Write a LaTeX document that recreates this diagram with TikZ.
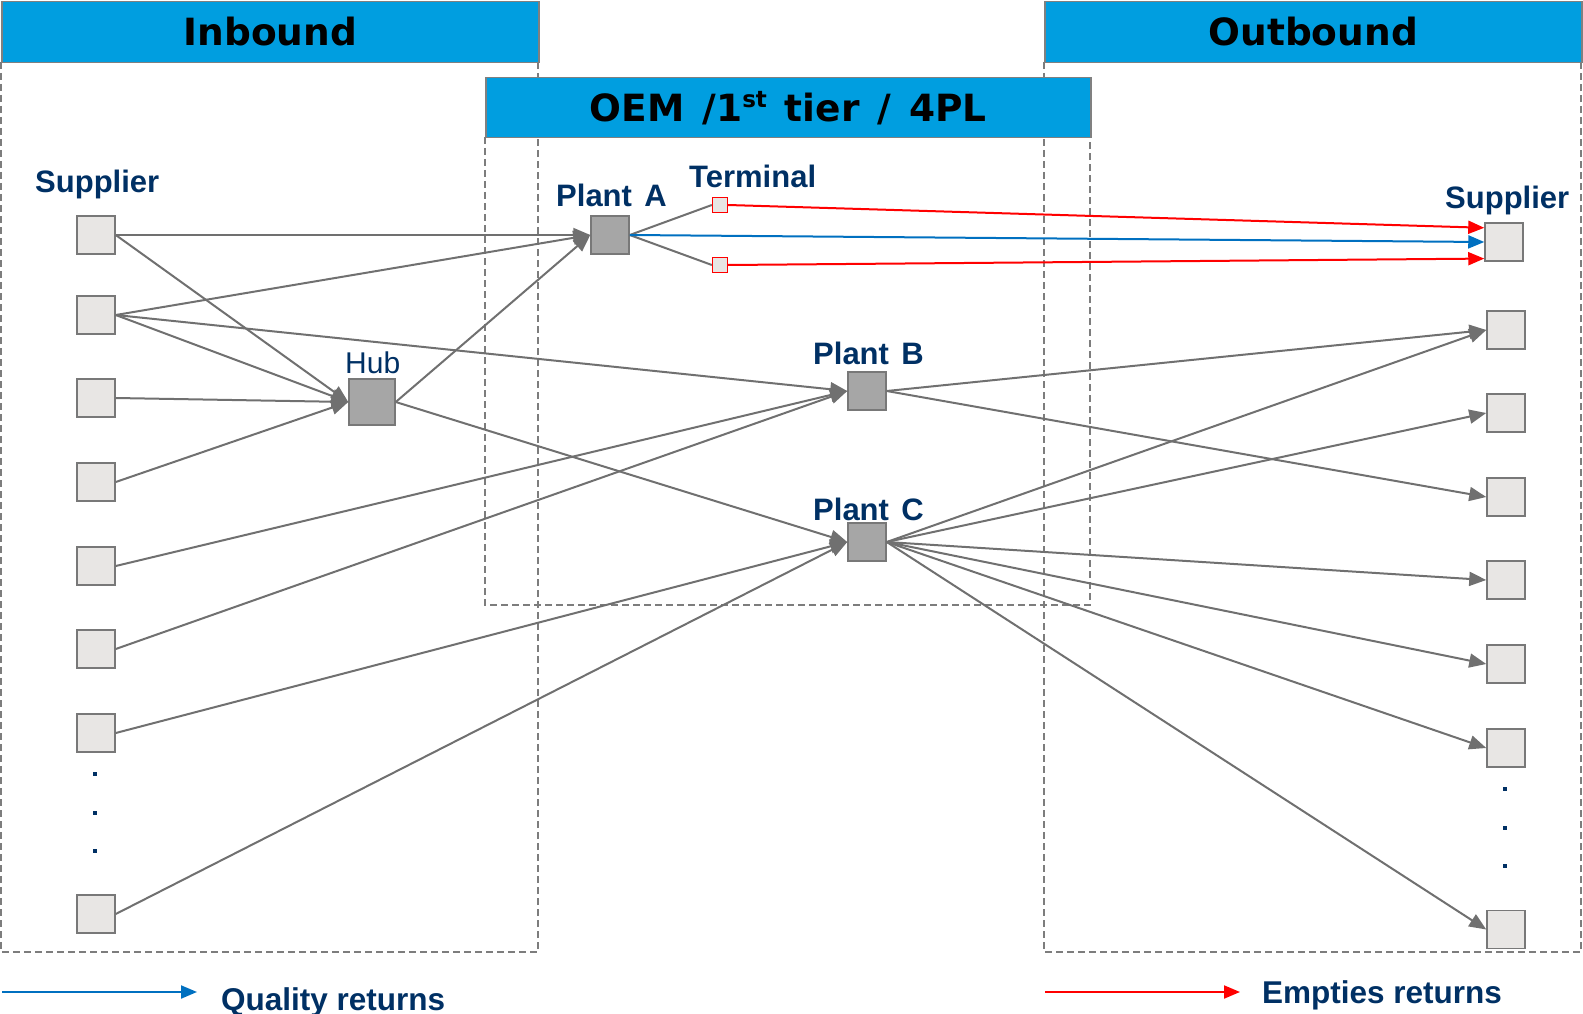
\documentclass[tikz,border=0pt]{standalone}
\usepackage{fontspec}
\setmainfont{Liberation Sans}
\newfontfamily\hdrfont{DejaVu Sans}
\usetikzlibrary{arrows.meta,calc}

\definecolor{hdrblue}{RGB}{0,158,224}
\definecolor{hdredge}{RGB}{128,128,128}
\definecolor{labelnavy}{RGB}{0,48,100}
\definecolor{linegray}{RGB}{112,112,112}
\definecolor{boxfill}{RGB}{232,230,228}
\definecolor{boxedge}{RGB}{120,120,120}
\definecolor{darkfill}{RGB}{166,166,166}
\definecolor{zonegray}{RGB}{125,125,125}
\definecolor{qblue}{RGB}{0,112,192}
\definecolor{ered}{RGB}{255,0,0}

\tikzset{
  zone/.style={draw=zonegray, line width=1.5pt, dash pattern=on 7pt off 4pt},
  hdr/.style={draw=hdredge, fill=hdrblue, line width=1.5pt, inner sep=0pt,
    anchor=north west, text height=27pt, text depth=0pt,
    font=\hdrfont\bfseries\fontsize{37.5pt}{40pt}\selectfont},
  lbl/.style={inner sep=0pt, anchor=base west, text=labelnavy,
    font=\bfseries\fontsize{31pt}{34pt}\selectfont},
  hublbl/.style={inner sep=0pt, anchor=base west, text=labelnavy,
    font=\fontsize{30pt}{33pt}\selectfont},
  sbox/.style={draw=boxedge, fill=boxfill, line width=1.5pt, minimum size=38pt, inner sep=0pt},
  hubbox/.style={draw=boxedge, fill=darkfill, line width=1.5pt, minimum size=46pt, inner sep=0pt},
  plantbox/.style={draw=boxedge, fill=darkfill, line width=1.5pt, minimum size=38pt, inner sep=0pt},
  termbox/.style={draw=ered, fill=boxfill, line width=1.3pt, minimum size=15pt, inner sep=0pt},
  dotmark/.style={fill=labelnavy, minimum size=4.5pt, inner sep=0pt},
  feed/.style={draw=linegray, line width=2pt, -{Triangle[length=17pt,width=14pt]}},
  tielink/.style={draw=linegray, line width=2pt},
  qual/.style={draw=qblue, line width=2pt, -{Triangle[length=16pt,width=13pt]}},
  empt/.style={draw=ered, line width=2pt, -{Triangle[length=16pt,width=13pt]}}
}

\begin{document}
\begin{tikzpicture}[x=1pt,y=-1pt]
\useasboundingbox (0,0) rectangle (1583,1014);

% dashed zones
\draw[zone] (1,62) rectangle (538,952);
\draw[zone] (485,137) rectangle (1090,605);
\draw[zone] (1044,62) rectangle (1581,952);

% zone headers
\node[hdr, minimum width=537pt, minimum height=61pt] (hin) at (1,1) {Inbound};
\node[hdr, minimum width=605pt, minimum height=60pt] (hoem) at (485,77)
  {OEM\hspace{0.48em}/1\raisebox{13.5pt}{\fontsize{23pt}{23pt}\selectfont st}\hspace{0.48em}tier\hspace{0.48em}/\hspace{0.48em}4PL};
\node[hdr, minimum width=537pt, minimum height=61pt] (hout) at (1044,1) {Outbound};

% labels
\node[lbl] (tsupl) at (35,193) {Supplier};
\node[hublbl] (thub) at (345,373) {Hub};
\node[lbl] (tpa) at (556,206) {Plant\hspace{0.4em}A};
\node[lbl] (tterm) at (689,187) {Terminal};
\node[lbl] (tpb) at (813,364) {Plant\hspace{0.4em}B};
\node[lbl] (tpc) at (813,520) {Plant\hspace{0.4em}C};
\node[lbl] (tsupr) at (1445,208) {Supplier};

% inbound suppliers
\node[sbox] (L1) at (96,235) {};
\node[sbox] (L2) at (96,315) {};
\node[sbox] (L3) at (96,398) {};
\node[sbox] (L4) at (96,482) {};
\node[sbox] (L5) at (96,566) {};
\node[sbox] (L6) at (96,649) {};
\node[sbox] (L7) at (96,733) {};
\node[sbox] (L8) at (96,914) {};
\node[dotmark] (ld1) at (95,774) {};
\node[dotmark] (ld2) at (95,813) {};
\node[dotmark] (ld3) at (95,851) {};

% hub, plants and terminals
\node[hubbox] (hub) at (372,402) {};
\node[plantbox] (PA) at (610,235) {};
\node[plantbox] (PB) at (867,391) {};
\node[plantbox] (PC) at (867,542) {};
\node[termbox] (Tup) at (720,205) {};
\node[termbox] (Tdn) at (720,265) {};

% outbound suppliers
\node[sbox] (R1) at (1504,242) {};
\node[sbox] (R2) at (1506,330) {};
\node[sbox] (R3) at (1506,413) {};
\node[sbox] (R4) at (1506,497) {};
\node[sbox] (R5) at (1506,580) {};
\node[sbox] (R6) at (1506,664) {};
\node[sbox] (R7) at (1506,748) {};
\node[sbox] (R8) at (1506,929.5) {};
\node[dotmark] (rd1) at (1505,789) {};
\node[dotmark] (rd2) at (1505,828) {};
\node[dotmark] (rd3) at (1505,866) {};

% return entry points on the first outbound supplier
\coordinate (r1up) at ($(R1.north west)!0.14!(R1.south west)$);
\coordinate (r1dn) at ($(R1.north west)!0.92!(R1.south west)$);

% inbound flows
\draw[feed] (L1.east) -- (PA.west);
\draw[feed] (L1.east) -- (hub.west);
\draw[feed] (L2.east) -- (PA.west);
\draw[feed] (L2.east) -- (hub.west);
\draw[feed] (L2.east) -- (PB.west);
\draw[feed] (L3.east) -- (hub.west);
\draw[feed] (L4.east) -- (hub.west);
\draw[feed] (L5.east) -- (PB.west);
\draw[feed] (L6.east) -- (PB.west);
\draw[feed] (L7.east) -- (PC.west);
\draw[feed] (L8.east) -- (PC.west);
\draw[feed] (hub.east) -- (PA.west);
\draw[feed] (hub.east) -- (PC.west);

% plant A via terminals and returns
\draw[tielink] (PA.east) -- (Tup.west);
\draw[tielink] (PA.east) -- (Tdn.west);
\draw[empt] (Tup.east) -- (r1up);
\draw[empt] (Tdn.east) -- (r1dn);
\draw[qual] (PA.east) -- (R1.west);

% outbound flows
\draw[feed] (PB.east) -- (R2.west);
\draw[feed] (PB.east) -- (R4.west);
\draw[feed] (PC.east) -- (R2.west);
\draw[feed] (PC.east) -- (R3.west);
\draw[feed] (PC.east) -- (R5.west);
\draw[feed] (PC.east) -- (R6.west);
\draw[feed] (PC.east) -- (R7.west);
\draw[feed] (PC.east) -- (R8.west);

% legend
\coordinate (qa) at (2,992);
\coordinate (qb) at (197,992);
\coordinate (ea) at (1045,992);
\coordinate (eb) at (1240,992);
\draw[qual] (qa) -- (qb);
\draw[empt] (ea) -- (eb);
\node[lbl, font=\bfseries\fontsize{31.5pt}{34pt}\selectfont] (tq) at (221,1010) {Quality returns};
\node[lbl, font=\bfseries\fontsize{31.5pt}{34pt}\selectfont] (te) at (1262,1003) {Empties returns};
\end{tikzpicture}
\end{document}
